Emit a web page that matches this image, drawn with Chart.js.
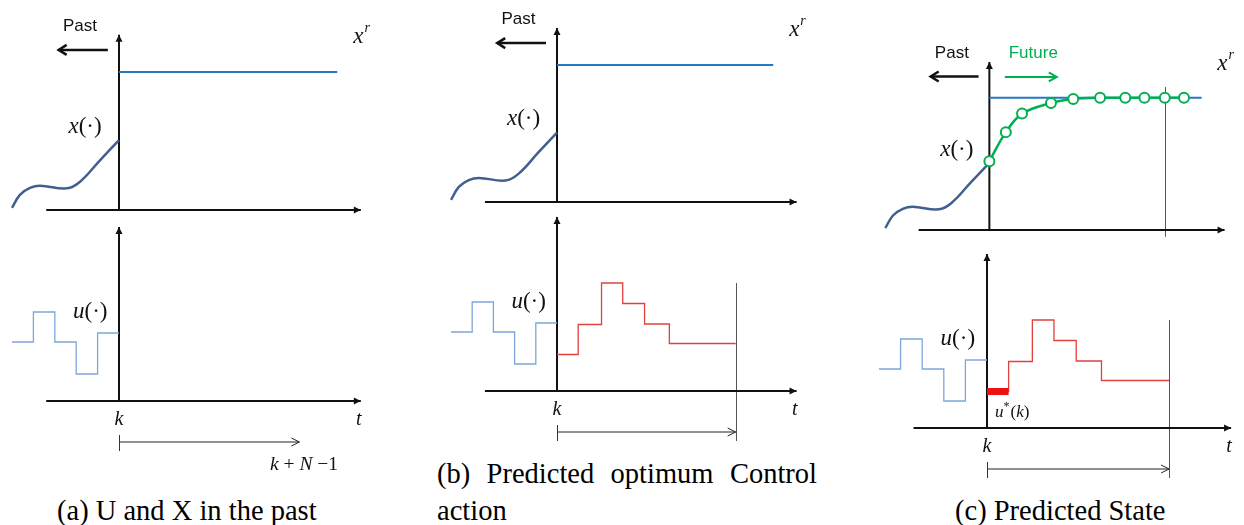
<!DOCTYPE html>
<html>
<head>
<meta charset="utf-8">
<script src="https://cdn.jsdelivr.net/npm/chart.js@4.4.0/dist/chart.umd.min.js"></script>
<style>
  html, body { margin: 0; padding: 0; background: #fff; }
  #page { position: relative; width: 1244px; height: 525px; overflow: hidden; }
  #page canvas { position: absolute; }
  .cap { position: absolute; font-family: "Liberation Serif", "Times New Roman", serif;
         font-size: 28.5px; line-height: 37px; color: #000; white-space: nowrap; }
</style>
</head>
<body>
<div id="page">
  <div class="cap" style="left:57px; top:492px;">(a) U and X in the past</div>
  <div class="cap" style="left:437px; top:455px; width:380px; white-space:normal; text-align:justify;">(b) Predicted optimum Control action</div>
  <div class="cap" style="left:955px; top:492px;">(c) Predicted State</div>
</div>
<script>
// time in sampling steps (k = 0), state normalised so that x^r = 1
const pastSteps = [-5, -4, -3, -2, -1, 0];
const pastInput = [0.59, 0.89, 0.59, 0.27, 0.68, 0.68];

const stateTime = [-5, -4.63, -4.16, -3.69, -2.43, -1.82, -0.89, 0];
const stateValue = [0.015, 0.11, 0.16, 0.176, 0.157, 0.205, 0.36, 0.507];

const refTime = [0, 10.2];
const refValue = [1, 1];

const optSteps = [0, 1, 2.1, 3.1, 4.13, 5.3, 8.43];
const optInput = [0.365, 0.665, 1.08, 0.875, 0.67, 0.475, 0.475];

const firstMoveTime = [0, 1];
const firstMoveInput = [0.365, 0.365];

const predTime = [0, 0.79, 1.57, 2.96, 4.03, 5.32, 6.53, 7.45, 8.43, 9.35];
const predState = [0.52, 0.74, 0.88, 0.96, 0.99, 1, 1, 1, 1, 1];

const horizonEnd = 8.43;

const BLACK = '#111';
const REF_BLUE = '#2479C2';
const STATE_BLUE = '#41608F';
const PAST_BLUE = '#7FA6DA';
const RED = '#E2403F';
const GREEN = '#00B050';
const GRAY = '#555';

const SERIF = '"Liberation Serif", "Times New Roman", serif';
const SANS = '"Liberation Sans", Arial, sans-serif';

function pts(xs, ys) {
  return xs.map((x, i) => ({ x: x, y: ys[i] }));
}

function lineSet(data, color, width, extra) {
  return Object.assign({
    data: data, borderColor: color, backgroundColor: color, borderWidth: width,
    pointRadius: 0, fill: false, tension: 0
  }, extra || {});
}

// drawing helpers for the hand-drawn look (axes, arrows, math labels)
function arrow(ctx, x1, y1, x2, y2, o) {
  ctx.save();
  ctx.strokeStyle = o.color || BLACK;
  ctx.fillStyle = o.color || BLACK;
  ctx.lineWidth = o.width || 1;
  ctx.lineCap = 'butt';
  ctx.beginPath(); ctx.moveTo(x1, y1); ctx.lineTo(x2, y2); ctx.stroke();
  if (o.head) {
    const a = Math.atan2(y2 - y1, x2 - x1);
    const L = o.head, W = o.headW || o.head * 0.5;
    const bx = x2 - L * Math.cos(a), by = y2 - L * Math.sin(a);
    const px = -Math.sin(a) * W, py = Math.cos(a) * W;
    ctx.beginPath();
    if (o.filled) {
      ctx.moveTo(x2, y2); ctx.lineTo(bx + px, by + py); ctx.lineTo(bx - px, by - py);
      ctx.closePath(); ctx.fill();
    } else {
      ctx.lineJoin = 'miter';
      ctx.moveTo(bx + px, by + py); ctx.lineTo(x2, y2); ctx.lineTo(bx - px, by - py);
      ctx.stroke();
    }
  }
  ctx.restore();
}

function drawRuns(ctx, x, y, runs, color, align) {
  ctx.save();
  ctx.fillStyle = color || BLACK;
  ctx.textBaseline = 'alphabetic';
  let total = 0;
  runs.forEach(r => { ctx.font = r.f; total += ctx.measureText(r.t).width + (r.gap || 0); });
  let cx = align === 'center' ? x - total / 2 : x;
  runs.forEach(r => {
    ctx.font = r.f;
    ctx.fillText(r.t, cx, y + (r.dy || 0));
    cx += ctx.measureText(r.t).width + (r.gap || 0);
  });
  ctx.restore();
}

const decor = {};

const sketchPlugin = {
  id: 'sketch',
  beforeDatasetsDraw(chart) {
    const d = decor[chart.canvas.id];
    if (!d) return;
    const ctx = chart.ctx, sx = chart.scales.x, sy = chart.scales.y;
    const X = v => sx.getPixelForValue(v), Y = v => sy.getPixelForValue(v);
    (d.vlines || []).forEach(v => {
      ctx.save();
      ctx.strokeStyle = GRAY; ctx.lineWidth = 1;
      ctx.beginPath(); ctx.moveTo(Math.round(X(v.x)) + 0.5, Y(v.y0)); ctx.lineTo(Math.round(X(v.x)) + 0.5, Y(v.y1)); ctx.stroke();
      ctx.restore();
    });
    const ax = d.axes;
    arrow(ctx, X(ax.x0), Y(0), X(ax.x1), Y(0), { color: BLACK, width: 2, head: 7, headW: 3.5, filled: true });
    arrow(ctx, X(0), Y(0) + 1, X(0), Y(ax.yTop), { color: BLACK, width: 2, head: 7, headW: 3.5, filled: true });
  },
  afterDatasetsDraw(chart) {
    const d = decor[chart.canvas.id];
    if (!d) return;
    const ctx = chart.ctx, sx = chart.scales.x, sy = chart.scales.y;
    const X = v => sx.getPixelForValue(v), Y = v => sy.getPixelForValue(v);
    (d.arrows || []).forEach(a => arrow(ctx, X(a.x1), Y(a.y1), X(a.x2), Y(a.y2), a));
    (d.ticks || []).forEach(t => {
      ctx.save();
      ctx.strokeStyle = '#333'; ctx.lineWidth = 1;
      ctx.beginPath(); ctx.moveTo(Math.round(X(t.x)) + 0.5, Y(t.y0)); ctx.lineTo(Math.round(X(t.x)) + 0.5, Y(t.y1)); ctx.stroke();
      ctx.restore();
    });
    (d.texts || []).forEach(t => drawRuns(ctx, X(t.x), Y(t.y), t.runs, t.color, t.align));
  }
};

// where each panel sits on the page: k position and pixels per step / per unit
const panels = {
  a: { left: 0, width: 410, ox: 119, sx: 21.4, top: { oy: 210, sy: 138 }, bottom: { oy: 401, sy: 100 } },
  b: { left: 420, width: 420, ox: 557, sx: 21.2, top: { oy: 202, sy: 137 }, bottom: { oy: 391, sy: 100 } },
  c: { left: 860, width: 384, ox: 987, sx: 21.6, top: { oy: 236, sy: 140 }, bottom: { oy: 428, sy: 100 } }
};
const rows = { top: { y: 0, h: 255 }, bottom: { y: 205, h: 290 } };

function makePlot(key, rowName, datasets, deco) {
  const p = panels[key], r = rows[rowName], m = p[rowName];
  const id = key + '_' + rowName;
  const canvas = document.createElement('canvas');
  canvas.id = id;
  canvas.width = p.width; canvas.height = r.h;
  canvas.style.left = p.left + 'px'; canvas.style.top = r.y + 'px';
  canvas.style.width = p.width + 'px'; canvas.style.height = r.h + 'px';
  document.getElementById('page').appendChild(canvas);
  decor[id] = deco;
  return new Chart(canvas.getContext('2d'), {
    type: 'line',
    data: { datasets: datasets },
    options: {
      responsive: false,
      animation: false,
      events: [],
      layout: { padding: 0 },
      plugins: { legend: { display: false }, tooltip: { enabled: false } },
      scales: {
        x: { type: 'linear', display: false, min: (p.left - p.ox) / p.sx, max: (p.left + p.width - p.ox) / p.sx },
        y: { type: 'linear', display: false, min: (m.oy - r.y - r.h) / m.sy, max: (m.oy - r.y) / m.sy }
      }
    },
    plugins: [sketchPlugin]
  });
}

const mathI = s => 'italic ' + s + 'px ' + SERIF;
const mathN = s => s + 'px ' + SERIF;

function upperDeco(extra) {
  const d = {
    axes: { x0: -3.4, x1: 11.3, yTop: 1.27 },
    arrows: [{ x1: -0.52, y1: 1.16, x2: -2.82, y2: 1.16, color: BLACK, width: 2.5, head: 8, headW: 5 }],
    texts: [
      { x: -2.62, y: 1.30, runs: [{ t: 'Past', f: '17px ' + SANS }] },
      { x: 10.95, y: 1.21, runs: [{ t: 'x', f: mathI(23), gap: 1 }, { t: 'r', f: mathI(14), dy: -11 }] },
      { x: -2.36, y: 0.56, runs: [{ t: 'x', f: mathI(23) }, { t: '(\u00b7)', f: mathN(23) }] }
    ],
    vlines: []
  };
  if (extra) extra(d);
  return d;
}

function lowerDeco(extra) {
  const d = {
    axes: { x0: -3.4, x1: 11.3, yTop: 1.74 },
    arrows: [{ x1: 0, y1: -0.41, x2: horizonEnd, y2: -0.41, color: '#222', width: 1, head: 8, headW: 4 }],
    ticks: [{ x: 0, y0: -0.34, y1: -0.5 }],
    texts: [
      { x: -2.15, y: 0.83, runs: [{ t: 'u', f: mathI(23) }, { t: '(\u00b7)', f: mathN(23) }] },
      { x: 0, y: -0.24, runs: [{ t: 'k', f: mathI(20) }], align: 'center' },
      { x: 11.08, y: -0.24, runs: [{ t: 't', f: mathI(20) }] }
    ],
    vlines: []
  };
  if (extra) extra(d);
  return d;
}

const stateCurve = () => lineSet(pts(stateTime, stateValue), STATE_BLUE, 2.5, { tension: 0.4, order: 1 });
const refLine = () => lineSet(pts(refTime, refValue), REF_BLUE, 2.2, { order: 3 });
const pastLine = () => lineSet(pts(pastSteps, pastInput), PAST_BLUE, 1.3, { stepped: true, order: 2 });
const optLine = () => lineSet(pts(optSteps, optInput), RED, 1.3, { stepped: true, order: 1 });

// (a) U and X in the past
makePlot('a', 'top', [stateCurve(), refLine()], upperDeco());
makePlot('a', 'bottom', [pastLine()], lowerDeco(d => {
  d.texts.push({ x: 7.06, y: -0.69, runs: [
    { t: 'k', f: mathI(19.5) }, { t: ' + ', f: mathN(19.5) }, { t: 'N', f: mathI(19.5) },
    { t: ' \u2212', f: mathN(19.5) }, { t: '1', f: mathN(19.5) }] });
}));

// (b) Predicted optimum control action
makePlot('b', 'top', [stateCurve(), refLine()], upperDeco());
makePlot('b', 'bottom', [optLine(), pastLine()], lowerDeco(d => {
  d.vlines.push({ x: horizonEnd, y0: 1.08, y1: -0.5 });
}));

// (c) Predicted state
makePlot('c', 'top', [
  lineSet(pts(predTime, predState), GREEN, 2.5, {
    tension: 0.35, order: 0, pointRadius: 5, pointBorderWidth: 2,
    pointBackgroundColor: '#fff', pointBorderColor: GREEN
  }),
  stateCurve(), refLine()
], upperDeco(d => {
  d.vlines.push({ x: horizonEnd, y0: 1.08, y1: -0.05 });
  d.texts.push({ x: 0.93, y: 1.30, runs: [{ t: 'Future', f: '17px ' + SANS }], color: GREEN });
  d.arrows.push({ x1: 0.74, y1: 1.157, x2: 3.24, y2: 1.157, color: GREEN, width: 2, head: 8, headW: 4.5 });
}));
makePlot('c', 'bottom', [
  lineSet(pts(firstMoveTime, firstMoveInput), '#EE1111', 7, { order: 0, borderCapStyle: 'butt' }),
  optLine(), pastLine()
], lowerDeco(d => {
  d.vlines.push({ x: horizonEnd, y0: 1.08, y1: -0.5 });
  d.texts.push({ x: 0.37, y: 0.11, runs: [
    { t: 'u', f: mathI(17) }, { t: '*', f: mathN(12), dy: -7, gap: 1 },
    { t: '(', f: mathN(17) }, { t: 'k', f: mathI(17) }, { t: ')', f: mathN(17) }] });
}));
</script>
</body>
</html>
